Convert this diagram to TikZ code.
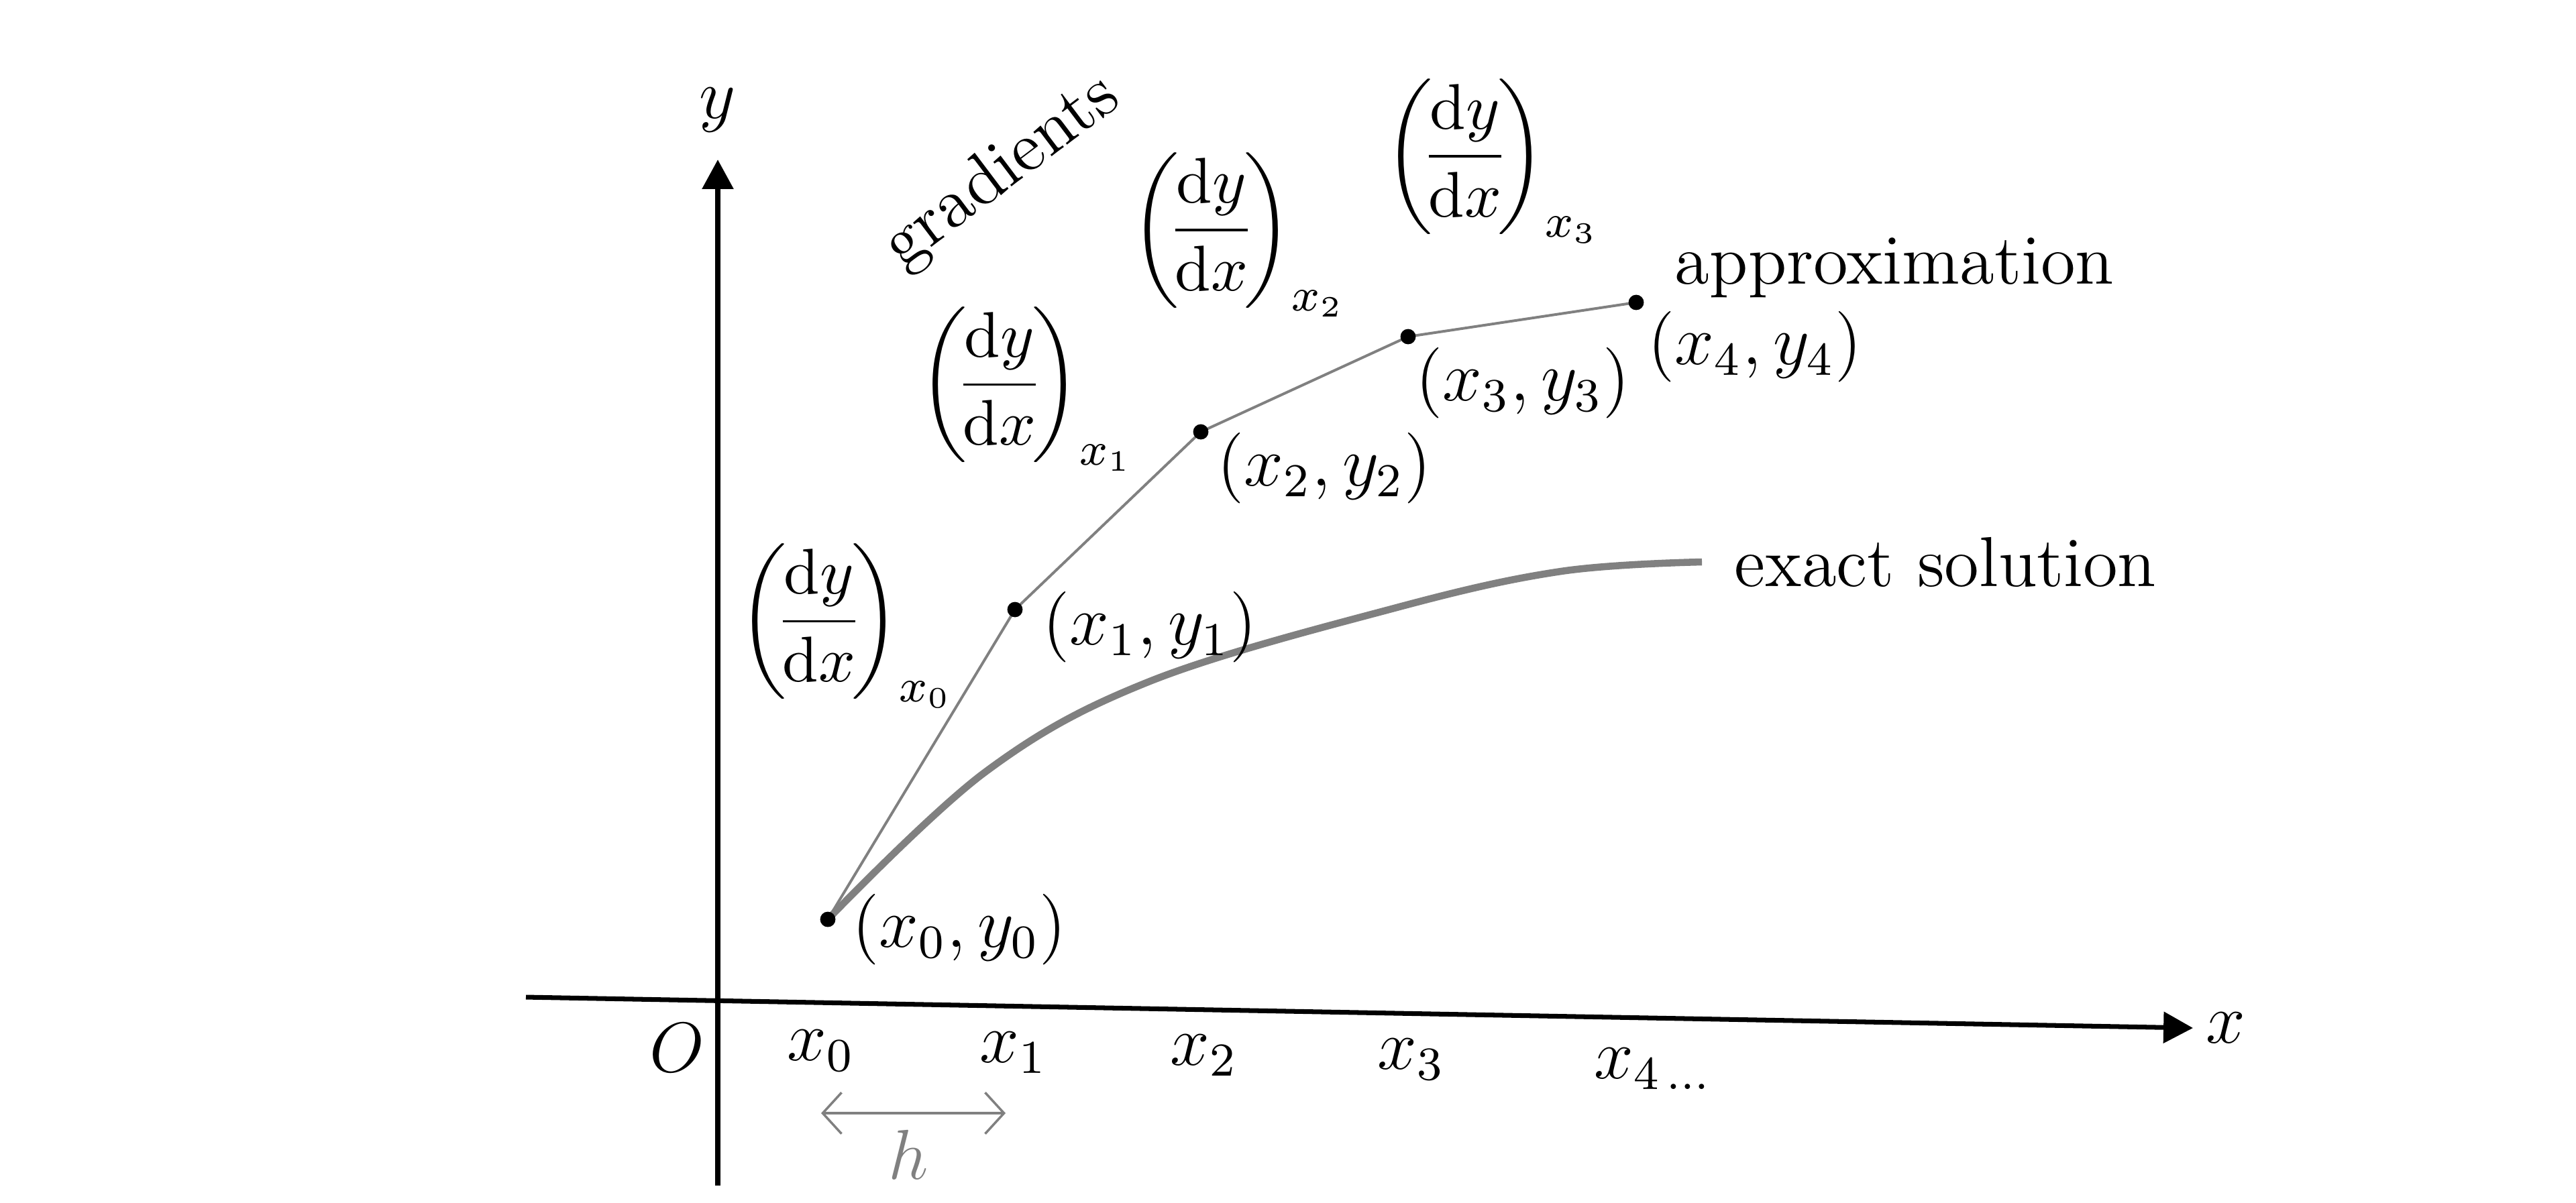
\documentclass[tikz,border=0pt]{standalone}
\usepackage{amsmath, amssymb}
\usepackage{tikz}
\usetikzlibrary{arrows.meta, positioning, calc}

\begin{document}
\begin{tikzpicture}[>=stealth, x=0.4cm, y=0.4cm,
        every node/.style={font=\large},
        axisline/.style={line width=0.8pt, -{Triangle[length=5pt,width=5.2pt]}},
        approx/.style={draw=black!50, line width=0.45pt},
        exact/.style={draw=black!50, line width=1.2pt},
        dot/.style={circle, fill=black, inner sep=0pt, minimum size=2.6pt},
        slope/.style={font=\fontsize{11}{13}\selectfont, anchor=west},
        stepbar/.style={black!50, line width=0.4pt, {Straight Barb[length=3.2pt,width=7pt]}-{Straight Barb[length=3.2pt,width=7pt]}}]

        \useasboundingbox (-10.70,-3.01) rectangle (27.70,14.92);

        %\draw[help lines] (-3, -3) grid (25, 14);

        % axes
        \coordinate (xstart) at (-2.86, 0.05);
        \coordinate (xend) at (21.99, -0.41);
        \coordinate (ybot) at (0, -2.76);
        \coordinate (ytop) at (0, 12.54);
        \draw[axisline] (xstart) -- (xend) node[right=-1.5pt] (xlab) {$x$};
        \draw[axisline] (ybot) -- (ytop);
        \node (ylab) at (0, 13.28) {$y$};
        \node (olab) at (-0.61, -0.70) {$O$};

        \node (t0) at (1.54, -0.75) {$x_0$};
        \node (t1) at (4.41, -0.78) {$x_1$};
        \node (t2) at (7.25, -0.82) {$x_2$};
        \node (t3) at (10.34, -0.88) {$x_3$};
        \node (t4) at (13.94, -1.02) {$x_{4\,\ldots}$};

        % step width
        \coordinate (hl) at (1.54, -1.68);
        \coordinate (hr) at (4.29, -1.68);
        \draw[stepbar] (hl) -- (hr);
        \node[text=black!50] (hlab) at (2.84, -2.30) {$h$};

        % points of the approximation
        \foreach \i/\px/\py in {0/1.64/1.21, 1/4.43/5.83, 2/7.20/8.48, 3/10.29/9.90, 4/13.69/10.41}
            \coordinate (p\i) at (\px, \py);

        \coordinate (esol) at (14.67, 6.54);
        \draw[exact] plot[smooth, tension=0.6] coordinates {(p0) (3.99,3.41) (6.44,4.76) (10.12,5.86) (12.57,6.40) (esol)};
        \node[right=2pt] (esollab) at (esol) {exact solution};

        \draw[approx] (p0) -- (p1) -- (p2) -- (p3) -- (p4);
        \foreach \i in {0,...,4}
            \node[dot] (d\i) at (p\i) {};

        \node (lp0) at (3.60, 1.06) {$(x_0, y_0)$};
        \node (lp1) at (6.44, 5.57) {$(x_1, y_1)$};
        \node (lp2) at (9.04, 7.94) {$(x_2, y_2)$};
        \node (lp3) at (12.00, 9.21) {$(x_3, y_3)$};
        \node (lp4) at (15.46, 9.75) {$(x_4, y_4)$};
        \node (approxlab) at (17.54, 10.93) {approximation};

        % gradients
        \node[rotate=37] (gradlab) at (4.24, 12.35) {gradients};
        \foreach \i/\gx/\gy in {0/0.00/5.59, 1/2.69/9.12, 2/5.85/11.42, 3/9.63/12.52}
            \node[slope] (g\i) at (\gx, \gy) {$\left(\!\dfrac{\mathrm{d}y}{\mathrm{d}x}\!\right)_{x_\i}$};
\end{tikzpicture}
\end{document}
